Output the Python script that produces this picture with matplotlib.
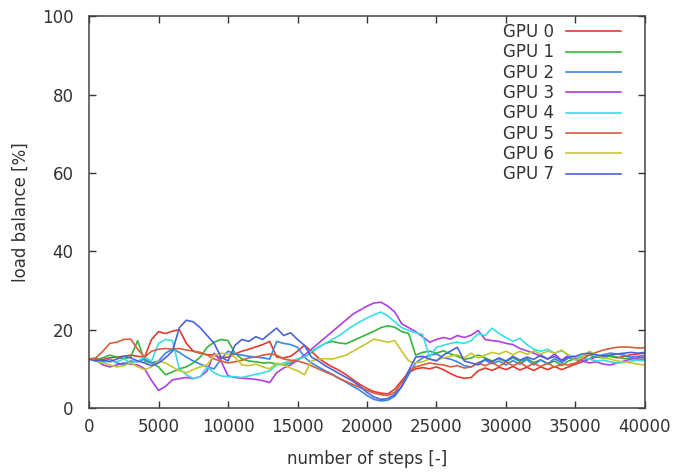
import numpy as np
import matplotlib
matplotlib.use("Agg")
import matplotlib.pyplot as plt

# step counter, sampled every 500 steps
steps = np.arange(0, 40001, 500)

gpu0 = [12.5, 12.6, 12.4, 12.8, 13.0, 13.2, 13.5, 13.2, 13.0, 17.5, 19.5, 19.0, 19.6, 20.0, 16.5, 14.5,
        14.0, 13.6, 13.5, 12.8, 13.0, 13.8, 14.5, 15.0, 15.6, 16.2, 17.0, 13.0, 12.8, 13.2, 14.5, 16.0,
        14.5, 12.8, 11.5, 10.5, 9.6, 8.5, 7.2, 6.0, 5.0, 4.2, 3.8, 3.6, 4.8, 7.0, 9.0, 10.0,
        10.3, 10.0, 10.5, 9.8, 8.8, 8.0, 7.6, 7.8, 9.5, 10.2, 9.6, 10.4, 9.8, 10.6, 9.7, 10.4,
        9.6, 10.5, 9.8, 10.6, 9.8, 10.5, 11.2, 11.8, 12.5, 13.0, 13.5, 13.2, 12.8, 13.2, 13.6, 13.8, 14.0]

gpu1 = [12.5, 12.3, 12.8, 13.5, 13.0, 12.6, 13.0, 17.2, 12.0, 11.5, 10.5, 8.5, 9.2, 10.0, 10.5, 11.5,
        13.0, 15.5, 16.8, 17.5, 17.2, 14.0, 12.5, 12.0, 11.8, 11.5, 11.6, 11.2, 11.0, 11.5, 12.5, 13.0,
        14.2, 15.5, 16.5, 17.0, 16.6, 16.4, 17.2, 18.0, 18.8, 19.6, 20.5, 21.0, 20.6, 19.5, 19.0, 13.5,
        14.2, 14.5, 14.0, 14.6, 13.8, 13.2, 12.4, 12.8, 13.5, 12.8, 12.0, 12.6, 11.8, 12.8, 11.9, 12.6,
        11.6, 12.3, 11.2, 12.0, 10.8, 12.0, 12.6, 13.2, 13.5, 13.0, 12.8, 13.3, 13.0, 12.6, 12.8, 12.4, 12.5]

gpu2 = [12.5, 12.2, 11.8, 12.5, 11.5, 11.0, 12.0, 11.8, 12.5, 11.5, 12.0, 14.0, 15.0, 14.2, 13.0, 12.0,
        11.2, 10.5, 10.0, 12.5, 14.5, 13.8, 13.5, 13.2, 13.0, 12.8, 12.5, 17.0, 16.5, 16.2, 15.5, 13.0,
        11.5, 10.5, 9.5, 8.6, 7.6, 6.6, 5.5, 4.5, 3.2, 2.2, 1.8, 2.0, 3.0, 5.5, 8.5, 11.5,
        12.8, 13.5, 13.8, 12.8, 12.5, 11.8, 10.8, 10.5, 11.6, 12.2, 11.3, 12.0, 11.0, 12.1, 11.2, 12.4,
        11.0, 12.3, 11.3, 12.6, 11.5, 12.8, 12.4, 12.0, 12.6, 13.2, 13.6, 14.0, 13.8, 13.5, 13.0, 13.2, 13.4]

gpu3 = [12.5, 12.2, 11.0, 10.5, 11.0, 11.5, 11.2, 11.0, 10.0, 7.0, 4.5, 5.5, 7.2, 7.5, 7.8, 7.5,
        8.0, 9.5, 14.0, 12.0, 8.2, 7.8, 7.6, 7.5, 7.3, 7.0, 6.5, 9.0, 10.2, 11.0, 12.2, 13.5,
        15.0, 16.5, 18.0, 19.5, 21.0, 22.5, 24.0, 25.0, 26.0, 26.8, 27.0, 26.0, 24.5, 21.5, 20.5, 19.5,
        18.2, 16.8, 17.5, 18.0, 17.6, 18.5, 18.0, 18.6, 19.8, 17.5, 17.2, 17.0, 16.5, 16.2, 15.2, 14.6,
        14.0, 13.2, 12.5, 13.8, 12.2, 13.5, 12.5, 12.0, 11.5, 11.8, 11.2, 11.0, 11.5, 12.0, 12.5, 12.8, 13.0]

gpu4 = [12.5, 12.0, 11.5, 12.2, 11.8, 12.5, 11.5, 12.0, 13.0, 12.0, 16.5, 17.5, 17.2, 10.0, 8.5, 7.5,
        8.0, 10.5, 9.0, 8.2, 8.0, 8.0, 7.8, 8.2, 8.6, 9.0, 9.5, 11.0, 11.5, 12.0, 12.5, 13.0,
        14.5, 15.5, 16.5, 17.5, 18.5, 19.8, 21.0, 22.0, 23.0, 23.8, 24.5, 23.5, 22.0, 20.5, 19.8, 19.2,
        18.8, 13.0, 15.5, 16.0, 16.5, 16.8, 16.5, 17.2, 19.0, 18.5, 20.4, 19.0, 18.0, 17.0, 17.8, 16.2,
        15.0, 14.5, 15.0, 14.0, 14.6, 13.5, 13.0, 12.8, 12.5, 12.0, 12.2, 11.8, 11.5, 11.6, 12.0, 12.2, 12.0]

gpu5 = [12.5, 12.8, 14.5, 16.5, 16.8, 17.5, 17.6, 15.0, 13.0, 14.5, 15.0, 15.2, 15.0, 15.2, 14.8, 14.5,
        14.2, 13.5, 12.5, 12.0, 11.5, 11.8, 12.2, 12.8, 13.0, 13.5, 13.8, 13.5, 12.5, 12.2, 12.0, 11.5,
        10.8, 10.0, 9.2, 8.5, 7.5, 6.8, 6.0, 5.2, 4.5, 3.8, 3.4, 3.2, 4.0, 6.5, 9.5, 10.5,
        11.0, 11.5, 11.2, 11.0, 10.5, 10.8, 10.2, 10.5, 11.5, 10.8, 11.6, 10.6, 11.8, 10.8, 11.6, 10.5,
        11.4, 10.6, 11.5, 10.4, 11.2, 11.0, 11.5, 12.5, 13.5, 14.2, 14.8, 15.2, 15.5, 15.6, 15.5, 15.3, 15.4]

gpu6 = [12.5, 12.0, 11.5, 11.0, 10.5, 10.8, 11.5, 10.5, 9.8, 10.5, 12.0, 11.5, 10.5, 9.5, 9.0, 9.8,
        10.5, 11.0, 13.5, 14.0, 13.8, 13.0, 11.0, 10.8, 11.2, 10.5, 10.0, 11.5, 11.0, 10.2, 9.5, 8.5,
        12.0, 12.5, 12.6, 12.5, 13.0, 13.5, 14.5, 15.5, 16.5, 17.6, 17.2, 16.8, 17.2, 14.5, 12.0, 11.5,
        11.8, 12.5, 12.2, 12.8, 13.2, 13.6, 12.8, 14.0, 12.8, 13.5, 14.2, 13.8, 14.5, 13.6, 14.5, 13.7,
        14.6, 13.8, 14.5, 14.0, 14.8, 13.5, 12.2, 13.0, 14.5, 13.5, 12.8, 12.5, 12.0, 11.8, 11.5, 11.2, 11.0]

gpu7 = [12.5, 12.0, 12.2, 11.8, 12.5, 13.2, 12.8, 12.0, 11.5, 10.8, 11.5, 12.8, 14.5, 20.5, 22.4, 22.0,
        20.5, 18.5, 16.5, 13.0, 12.0, 16.0, 17.5, 17.0, 18.2, 17.5, 19.0, 20.4, 18.5, 19.2, 17.5, 16.0,
        13.0, 12.0, 10.8, 9.8, 8.8, 7.8, 6.8, 5.5, 4.0, 2.8, 2.2, 2.4, 3.5, 5.5, 9.5, 13.0,
        13.2, 12.5, 12.0, 13.5, 14.5, 15.5, 12.0, 11.5, 11.0, 12.5, 11.8, 12.8, 12.0, 13.2, 12.2, 13.0,
        12.4, 13.5, 12.5, 13.2, 12.0, 13.0, 13.2, 13.8, 14.0, 13.6, 13.2, 13.5, 13.8, 14.0, 14.2, 14.0, 14.2]

series = [gpu0, gpu1, gpu2, gpu3, gpu4, gpu5, gpu6, gpu7]
labels = ["GPU 0", "GPU 1", "GPU 2", "GPU 3", "GPU 4", "GPU 5", "GPU 6", "GPU 7"]
colors = ["#e23a30", "#35b43a", "#3a86e6", "#b03ee0", "#38dde6", "#d4603e", "#c8c62e", "#4a62dc"]

x_ticks = [0, 5000, 10000, 15000, 20000, 25000, 30000, 35000, 40000]
y_ticks = [0, 20, 40, 60, 80, 100]

fig = plt.figure(figsize=(6.78, 4.75), dpi=100)
ax = fig.add_axes([0.1313, 0.141, 0.82, 0.825])

for vals, lab, col in zip(series, labels, colors):
    ax.plot(steps, vals, color=col, lw=1.2, label=lab)

ax.set_xlim(0, 40000)
ax.set_ylim(0, 100)
ax.set_xticks(x_ticks)
ax.set_yticks(y_ticks)
ax.tick_params(direction="in", top=True, right=True, length=5, width=1,
               labelsize=12, colors="#333333")
ax.tick_params(axis="y", pad=11)
ax.tick_params(axis="x", pad=7)
for sp in ax.spines.values():
    sp.set_color("#444444")
    sp.set_linewidth(1.1)

ax.set_xlabel("number of steps [-]", fontsize=12, color="#333333", labelpad=10)
ax.set_ylabel("load balance [%]", fontsize=12, color="#333333", labelpad=9)

leg = ax.legend(loc="upper right", markerfirst=False, frameon=False, fontsize=12,
                handlelength=3.3, handletextpad=0.7, labelspacing=0.14,
                borderaxespad=0.2, bbox_to_anchor=(0.974, 1.008))
for t in leg.get_texts():
    t.set_color("#333333")

fig.savefig("out.png", dpi=100)
